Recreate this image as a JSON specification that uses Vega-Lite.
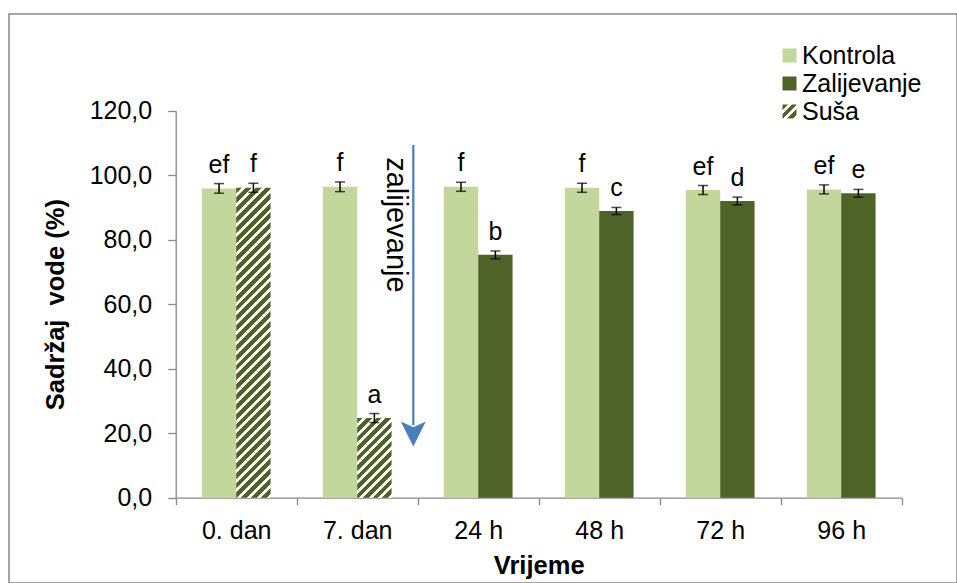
{
  "$schema": "https://vega.github.io/schema/vega-lite/v6.json",
  "width": 948,
  "height": 569,
  "autosize": {"type": "none"},
  "padding": {"left": 9, "top": 14, "right": 0, "bottom": 0},
  "config": {
    "font": "Liberation Sans",
    "view": {"stroke": "#898989", "strokeWidth": 1.5},
    "axis": {"grid": false}
  },
  "layer": [
    {
      "data": {
        "values": [
          {"time": "0. dan", "series": "Kontrola", "value": 95.9, "lo": 94.4, "hi": 97.4, "label": "ef"},
          {"time": "0. dan", "series": "Suša", "value": 96.1, "lo": 94.7, "hi": 97.5, "label": "f"},
          {"time": "7. dan", "series": "Kontrola", "value": 96.4, "lo": 94.9, "hi": 97.9, "label": "f"},
          {"time": "7. dan", "series": "Suša", "value": 24.7, "lo": 23.3, "hi": 26.1, "label": "a"},
          {"time": "24 h", "series": "Kontrola", "value": 96.4, "lo": 95.0, "hi": 97.8, "label": "f"},
          {"time": "24 h", "series": "Zalijevanje", "value": 75.3, "lo": 74.1, "hi": 76.5, "label": "b"},
          {"time": "48 h", "series": "Kontrola", "value": 96.1, "lo": 94.7, "hi": 97.5, "label": "f"},
          {"time": "48 h", "series": "Zalijevanje", "value": 88.9, "lo": 87.8, "hi": 90.0, "label": "c"},
          {"time": "72 h", "series": "Kontrola", "value": 95.4, "lo": 94.0, "hi": 96.8, "label": "ef"},
          {"time": "72 h", "series": "Zalijevanje", "value": 92.0, "lo": 90.8, "hi": 93.2, "label": "d"},
          {"time": "96 h", "series": "Kontrola", "value": 95.6, "lo": 94.2, "hi": 97.0, "label": "ef"},
          {"time": "96 h", "series": "Zalijevanje", "value": 94.4, "lo": 93.2, "hi": 95.6, "label": "e"}
        ]
      },
      "transform": [{"calculate": "datum.series === 'Kontrola' ? 'a' : 'b'", "as": "slot"}],
      "encoding": {
        "x": {
          "field": "time", "type": "nominal",
          "scale": {"domain": ["0. dan", "7. dan", "24 h", "48 h", "72 h", "96 h"], "range": [166.7, 892.7], "paddingInner": 0, "paddingOuter": 0},
          "axis": {
            "orient": "bottom", "offset": -85.3, "tickBand": "extent", "labelAngle": 0,
            "labelFontSize": 25, "labelColor": "black", "labelPadding": 14,
            "tickSize": 7, "tickColor": "#898989", "tickWidth": 1.3,
            "domainColor": "#898989", "domainWidth": 1.3,
            "title": "Vrijeme", "titleFontSize": 25.5, "titleFontWeight": "bold", "titleColor": "black", "titlePadding": 10
          }
        },
        "xOffset": {"field": "slot", "type": "nominal", "scale": {"domain": ["a", "b"], "paddingInner": 0, "paddingOuter": 0.7606}}
      },
      "layer": [
        {
          "mark": {"type": "bar"},
          "encoding": {
            "y": {
              "field": "value", "type": "quantitative",
              "scale": {"domain": [0, 120], "range": [483.7, 96.7], "nice": false},
              "axis": {
                "orient": "left", "offset": -166.7, "values": [0, 20, 40, 60, 80, 100, 120],
                "labelExpr": "replace(format(datum.value, '.1f'), '.', ',')",
                "labelFontSize": 25, "labelColor": "black", "labelPadding": 16,
                "tickSize": 8, "tickColor": "#898989", "tickWidth": 1.3,
                "domainColor": "#898989", "domainWidth": 1.3,
                "title": "Sadržaj\u00a0 vode (%)", "titleFontSize": 25.5, "titleFontWeight": "bold", "titleColor": "black", "titlePadding": 21
              }
            },
            "fill": {
              "condition": [
                {"test": "datum.series === 'Suša' && datum.time === '0. dan'", "value": {"gradient": "linear", "x1": 0, "y1": 0, "x2": 0.12168, "y2": 1.09739, "stops": [
                  {"offset": 0, "color": "#4f6228"}, {"offset": 0.0171, "color": "#4f6228"}, {"offset": 0.0171, "color": "#fff"}, {"offset": 0.0286, "color": "#fff"},
                  {"offset": 0.0286, "color": "#4f6228"}, {"offset": 0.0457, "color": "#4f6228"}, {"offset": 0.0457, "color": "#fff"}, {"offset": 0.0571, "color": "#fff"},
                  {"offset": 0.0571, "color": "#4f6228"}, {"offset": 0.0743, "color": "#4f6228"}, {"offset": 0.0743, "color": "#fff"}, {"offset": 0.0857, "color": "#fff"},
                  {"offset": 0.0857, "color": "#4f6228"}, {"offset": 0.1029, "color": "#4f6228"}, {"offset": 0.1029, "color": "#fff"}, {"offset": 0.1143, "color": "#fff"},
                  {"offset": 0.1143, "color": "#4f6228"}, {"offset": 0.1314, "color": "#4f6228"}, {"offset": 0.1314, "color": "#fff"}, {"offset": 0.1429, "color": "#fff"},
                  {"offset": 0.1429, "color": "#4f6228"}, {"offset": 0.16, "color": "#4f6228"}, {"offset": 0.16, "color": "#fff"}, {"offset": 0.1714, "color": "#fff"},
                  {"offset": 0.1714, "color": "#4f6228"}, {"offset": 0.1886, "color": "#4f6228"}, {"offset": 0.1886, "color": "#fff"}, {"offset": 0.2, "color": "#fff"},
                  {"offset": 0.2, "color": "#4f6228"}, {"offset": 0.2171, "color": "#4f6228"}, {"offset": 0.2171, "color": "#fff"}, {"offset": 0.2286, "color": "#fff"},
                  {"offset": 0.2286, "color": "#4f6228"}, {"offset": 0.2457, "color": "#4f6228"}, {"offset": 0.2457, "color": "#fff"}, {"offset": 0.2571, "color": "#fff"},
                  {"offset": 0.2571, "color": "#4f6228"}, {"offset": 0.2743, "color": "#4f6228"}, {"offset": 0.2743, "color": "#fff"}, {"offset": 0.2857, "color": "#fff"},
                  {"offset": 0.2857, "color": "#4f6228"}, {"offset": 0.3029, "color": "#4f6228"}, {"offset": 0.3029, "color": "#fff"}, {"offset": 0.3143, "color": "#fff"},
                  {"offset": 0.3143, "color": "#4f6228"}, {"offset": 0.3314, "color": "#4f6228"}, {"offset": 0.3314, "color": "#fff"}, {"offset": 0.3429, "color": "#fff"},
                  {"offset": 0.3429, "color": "#4f6228"}, {"offset": 0.36, "color": "#4f6228"}, {"offset": 0.36, "color": "#fff"}, {"offset": 0.3714, "color": "#fff"},
                  {"offset": 0.3714, "color": "#4f6228"}, {"offset": 0.3886, "color": "#4f6228"}, {"offset": 0.3886, "color": "#fff"}, {"offset": 0.4, "color": "#fff"},
                  {"offset": 0.4, "color": "#4f6228"}, {"offset": 0.4171, "color": "#4f6228"}, {"offset": 0.4171, "color": "#fff"}, {"offset": 0.4286, "color": "#fff"},
                  {"offset": 0.4286, "color": "#4f6228"}, {"offset": 0.4457, "color": "#4f6228"}, {"offset": 0.4457, "color": "#fff"}, {"offset": 0.4571, "color": "#fff"},
                  {"offset": 0.4571, "color": "#4f6228"}, {"offset": 0.4743, "color": "#4f6228"}, {"offset": 0.4743, "color": "#fff"}, {"offset": 0.4857, "color": "#fff"},
                  {"offset": 0.4857, "color": "#4f6228"}, {"offset": 0.5029, "color": "#4f6228"}, {"offset": 0.5029, "color": "#fff"}, {"offset": 0.5143, "color": "#fff"},
                  {"offset": 0.5143, "color": "#4f6228"}, {"offset": 0.5314, "color": "#4f6228"}, {"offset": 0.5314, "color": "#fff"}, {"offset": 0.5429, "color": "#fff"},
                  {"offset": 0.5429, "color": "#4f6228"}, {"offset": 0.56, "color": "#4f6228"}, {"offset": 0.56, "color": "#fff"}, {"offset": 0.5714, "color": "#fff"},
                  {"offset": 0.5714, "color": "#4f6228"}, {"offset": 0.5886, "color": "#4f6228"}, {"offset": 0.5886, "color": "#fff"}, {"offset": 0.6, "color": "#fff"},
                  {"offset": 0.6, "color": "#4f6228"}, {"offset": 0.6171, "color": "#4f6228"}, {"offset": 0.6171, "color": "#fff"}, {"offset": 0.6286, "color": "#fff"},
                  {"offset": 0.6286, "color": "#4f6228"}, {"offset": 0.6457, "color": "#4f6228"}, {"offset": 0.6457, "color": "#fff"}, {"offset": 0.6571, "color": "#fff"},
                  {"offset": 0.6571, "color": "#4f6228"}, {"offset": 0.6743, "color": "#4f6228"}, {"offset": 0.6743, "color": "#fff"}, {"offset": 0.6857, "color": "#fff"},
                  {"offset": 0.6857, "color": "#4f6228"}, {"offset": 0.7029, "color": "#4f6228"}, {"offset": 0.7029, "color": "#fff"}, {"offset": 0.7143, "color": "#fff"},
                  {"offset": 0.7143, "color": "#4f6228"}, {"offset": 0.7314, "color": "#4f6228"}, {"offset": 0.7314, "color": "#fff"}, {"offset": 0.7429, "color": "#fff"},
                  {"offset": 0.7429, "color": "#4f6228"}, {"offset": 0.76, "color": "#4f6228"}, {"offset": 0.76, "color": "#fff"}, {"offset": 0.7714, "color": "#fff"},
                  {"offset": 0.7714, "color": "#4f6228"}, {"offset": 0.7886, "color": "#4f6228"}, {"offset": 0.7886, "color": "#fff"}, {"offset": 0.8, "color": "#fff"},
                  {"offset": 0.8, "color": "#4f6228"}, {"offset": 0.8171, "color": "#4f6228"}, {"offset": 0.8171, "color": "#fff"}, {"offset": 0.8286, "color": "#fff"},
                  {"offset": 0.8286, "color": "#4f6228"}, {"offset": 0.8457, "color": "#4f6228"}, {"offset": 0.8457, "color": "#fff"}, {"offset": 0.8571, "color": "#fff"},
                  {"offset": 0.8571, "color": "#4f6228"}, {"offset": 0.8743, "color": "#4f6228"}, {"offset": 0.8743, "color": "#fff"}, {"offset": 0.8857, "color": "#fff"},
                  {"offset": 0.8857, "color": "#4f6228"}, {"offset": 0.9029, "color": "#4f6228"}, {"offset": 0.9029, "color": "#fff"}, {"offset": 0.9143, "color": "#fff"},
                  {"offset": 0.9143, "color": "#4f6228"}, {"offset": 0.9314, "color": "#4f6228"}, {"offset": 0.9314, "color": "#fff"}, {"offset": 0.9429, "color": "#fff"},
                  {"offset": 0.9429, "color": "#4f6228"}, {"offset": 0.96, "color": "#4f6228"}, {"offset": 0.96, "color": "#fff"}, {"offset": 0.9714, "color": "#fff"},
                  {"offset": 0.9714, "color": "#4f6228"}, {"offset": 0.9886, "color": "#4f6228"}, {"offset": 0.9886, "color": "#fff"}, {"offset": 1, "color": "#fff"}
                ]}},
                {"test": "datum.series === 'Suša' && datum.time === '7. dan'", "value": {"gradient": "linear", "x1": 0, "y1": 0, "x2": 0.52054, "y2": 1.20681, "stops": [
                  {"offset": 0, "color": "#4f6228"}, {"offset": 0.05, "color": "#4f6228"}, {"offset": 0.05, "color": "#fff"}, {"offset": 0.0833, "color": "#fff"},
                  {"offset": 0.0833, "color": "#4f6228"}, {"offset": 0.1333, "color": "#4f6228"}, {"offset": 0.1333, "color": "#fff"}, {"offset": 0.1667, "color": "#fff"},
                  {"offset": 0.1667, "color": "#4f6228"}, {"offset": 0.2167, "color": "#4f6228"}, {"offset": 0.2167, "color": "#fff"}, {"offset": 0.25, "color": "#fff"},
                  {"offset": 0.25, "color": "#4f6228"}, {"offset": 0.3, "color": "#4f6228"}, {"offset": 0.3, "color": "#fff"}, {"offset": 0.3333, "color": "#fff"},
                  {"offset": 0.3333, "color": "#4f6228"}, {"offset": 0.3833, "color": "#4f6228"}, {"offset": 0.3833, "color": "#fff"}, {"offset": 0.4167, "color": "#fff"},
                  {"offset": 0.4167, "color": "#4f6228"}, {"offset": 0.4667, "color": "#4f6228"}, {"offset": 0.4667, "color": "#fff"}, {"offset": 0.5, "color": "#fff"},
                  {"offset": 0.5, "color": "#4f6228"}, {"offset": 0.55, "color": "#4f6228"}, {"offset": 0.55, "color": "#fff"}, {"offset": 0.5833, "color": "#fff"},
                  {"offset": 0.5833, "color": "#4f6228"}, {"offset": 0.6333, "color": "#4f6228"}, {"offset": 0.6333, "color": "#fff"}, {"offset": 0.6667, "color": "#fff"},
                  {"offset": 0.6667, "color": "#4f6228"}, {"offset": 0.7167, "color": "#4f6228"}, {"offset": 0.7167, "color": "#fff"}, {"offset": 0.75, "color": "#fff"},
                  {"offset": 0.75, "color": "#4f6228"}, {"offset": 0.8, "color": "#4f6228"}, {"offset": 0.8, "color": "#fff"}, {"offset": 0.8333, "color": "#fff"},
                  {"offset": 0.8333, "color": "#4f6228"}, {"offset": 0.8833, "color": "#4f6228"}, {"offset": 0.8833, "color": "#fff"}, {"offset": 0.9167, "color": "#fff"},
                  {"offset": 0.9167, "color": "#4f6228"}, {"offset": 0.9667, "color": "#4f6228"}, {"offset": 0.9667, "color": "#fff"}, {"offset": 1, "color": "#fff"}
                ]}}
              ],
              "field": "series", "type": "nominal",
              "scale": {
                "domain": ["Kontrola", "Zalijevanje", "Suša"],
                "range": ["#c3d69b", "#4f6228", {"expr": "{gradient: 'linear', x1: 0, y1: 0, x2: 1, y2: 1, stops: [{offset: 0, color: '#4f6228'}, {offset: 0.2, color: '#4f6228'}, {offset: 0.2, color: '#fff'}, {offset: 0.3333, color: '#fff'}, {offset: 0.3333, color: '#4f6228'}, {offset: 0.5333, color: '#4f6228'}, {offset: 0.5333, color: '#fff'}, {offset: 0.6667, color: '#fff'}, {offset: 0.6667, color: '#4f6228'}, {offset: 0.8667, color: '#4f6228'}, {offset: 0.8667, color: '#fff'}, {offset: 1, color: '#fff'}]}"}]
              },
              "legend": {
                "orient": "none", "legendX": 768, "legendY": 29, "title": null, "direction": "vertical",
                "symbolType": "square", "symbolSize": 196, "symbolStrokeWidth": 0,
                "labelFontSize": 25, "labelColor": "black", "labelOffset": 0, "rowPadding": 2, "padding": 0
              }
            }
          }
        },
        {
          "mark": {"type": "rule", "color": "black", "strokeWidth": 1.5},
          "encoding": {"y": {"field": "lo", "type": "quantitative"}, "y2": {"field": "hi"}}
        },
        {
          "mark": {"type": "tick", "orient": "horizontal", "size": 10, "thickness": 1.5, "color": "black"},
          "encoding": {"y": {"field": "lo", "type": "quantitative"}}
        },
        {
          "mark": {"type": "tick", "orient": "horizontal", "size": 10, "thickness": 1.5, "color": "black"},
          "encoding": {"y": {"field": "hi", "type": "quantitative"}}
        },
        {
          "mark": {"type": "text", "fontSize": 25, "baseline": "alphabetic", "dy": -11, "color": "black"},
          "encoding": {"y": {"field": "hi", "type": "quantitative"}, "text": {"field": "label"}}
        }
      ]
    },
    {
      "data": {"values": [{"time": "7. dan", "top": 109.4, "bottom": 22.5, "head": 19.75, "ty": 84.6, "note": "zalijevanje"}]},
      "encoding": {
        "x": {"field": "time", "type": "nominal", "bandPosition": 0.9636, "scale": {"domain": ["0. dan", "7. dan", "24 h", "48 h", "72 h", "96 h"]}}
      },
      "layer": [
        {
          "mark": {"type": "rule", "color": "#4a7ebb", "strokeWidth": 2.2},
          "encoding": {"y": {"field": "top", "type": "quantitative"}, "y2": {"field": "bottom"}}
        },
        {
          "mark": {"type": "point", "shape": "M0,1L-1,-1L0,-0.55L1,-1Z", "size": 625, "filled": true, "color": "#4a7ebb", "opacity": 1},
          "encoding": {"y": {"field": "head", "type": "quantitative"}}
        },
        {
          "mark": {"type": "text", "angle": 90, "fontSize": 29, "baseline": "top", "align": "center", "dy": 3, "color": "black"},
          "encoding": {"y": {"field": "ty", "type": "quantitative"}, "text": {"field": "note"}}
        }
      ]
    }
  ]
}
